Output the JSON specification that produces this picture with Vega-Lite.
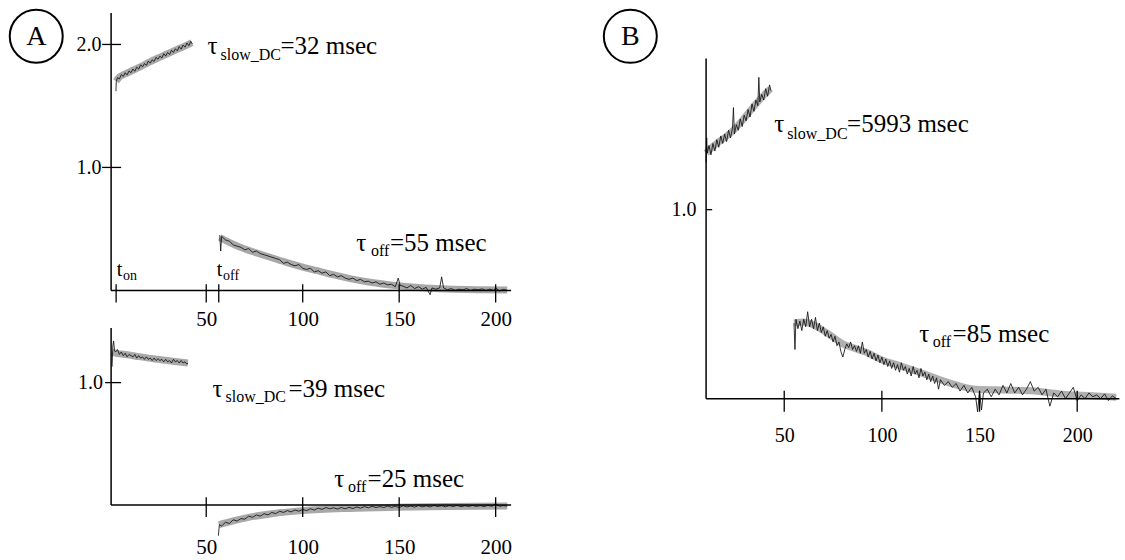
{
"$schema": "https://vega.github.io/schema/vega-lite/v6.json",
"autosize": {"type": "pad"},
"padding": {"left": 5.1, "top": 5.1, "right": 0, "bottom": 6},
"background": "white",
"bounds": "flush",
"columns": 2,
"spacing": {"row": 0, "column": 195},
"config": {
  "view": {"stroke": null},
  "axis": {"labelFont": "Liberation Serif", "labelColor": "black", "domain": false, "ticks": false, "tickSize": 0, "grid": false, "labelFlush": false, "labelOverlap": false, "labelBound": false},
  "text": {"font": "Liberation Serif", "color": "black", "align": "left", "baseline": "alphabetic"}
},
"datasets": {
  "aTopFit": [
    {"seg":"on","x":3.3,"y":1.70},{"seg":"on","x":5,"y":1.735},{"seg":"on","x":8,"y":1.76},{"seg":"on","x":12,"y":1.79},{"seg":"on","x":16,"y":1.82},{"seg":"on","x":20,"y":1.852},{"seg":"on","x":25,"y":1.89},{"seg":"on","x":30,"y":1.925},{"seg":"on","x":35,"y":1.96},{"seg":"on","x":40,"y":1.995},{"seg":"on","x":42.6,"y":2.015},
    {"seg":"off","x":57,"y":0.43},{"seg":"off","x":62,"y":0.39},{"seg":"off","x":67,"y":0.355},{"seg":"off","x":75,"y":0.31},{"seg":"off","x":81,"y":0.28},{"seg":"off","x":91,"y":0.23},{"seg":"off","x":100,"y":0.19},{"seg":"off","x":107,"y":0.162},{"seg":"off","x":115,"y":0.13},{"seg":"off","x":124,"y":0.098},{"seg":"off","x":135,"y":0.066},{"seg":"off","x":148,"y":0.04},{"seg":"off","x":160,"y":0.024},{"seg":"off","x":175,"y":0.012},{"seg":"off","x":190,"y":0.006},{"seg":"off","x":206,"y":0.003}
  ],
  "aTopNoise": [
    {"seg":"on","x":3.2,"y":1.62},{"seg":"on","x":3.4,"y":1.70},{"seg":"on","x":4,"y":1.73},{"seg":"on","x":5,"y":1.72},{"seg":"on","x":6,"y":1.755},{"seg":"on","x":7,"y":1.74},{"seg":"on","x":8,"y":1.77},{"seg":"on","x":9,"y":1.752},{"seg":"on","x":10,"y":1.785},{"seg":"on","x":11,"y":1.77},{"seg":"on","x":12,"y":1.80},{"seg":"on","x":13,"y":1.782},{"seg":"on","x":14,"y":1.815},{"seg":"on","x":15,"y":1.80},{"seg":"on","x":16,"y":1.835},{"seg":"on","x":17,"y":1.818},{"seg":"on","x":18,"y":1.845},{"seg":"on","x":19,"y":1.83},{"seg":"on","x":20,"y":1.865},{"seg":"on","x":21,"y":1.848},{"seg":"on","x":22,"y":1.875},{"seg":"on","x":23,"y":1.862},{"seg":"on","x":24,"y":1.895},{"seg":"on","x":25,"y":1.88},{"seg":"on","x":26,"y":1.905},{"seg":"on","x":27,"y":1.89},{"seg":"on","x":28,"y":1.925},{"seg":"on","x":29,"y":1.905},{"seg":"on","x":30,"y":1.935},{"seg":"on","x":31,"y":1.918},{"seg":"on","x":32,"y":1.952},{"seg":"on","x":33,"y":1.935},{"seg":"on","x":34,"y":1.965},{"seg":"on","x":35,"y":1.948},{"seg":"on","x":36,"y":1.982},{"seg":"on","x":37,"y":1.962},{"seg":"on","x":38,"y":1.995},{"seg":"on","x":39,"y":1.978},{"seg":"on","x":40,"y":2.012},{"seg":"on","x":41,"y":1.99},{"seg":"on","x":42,"y":2.025},{"seg":"on","x":42.8,"y":2.005},
    {"seg":"off","x":57,"y":0.45},{"seg":"off","x":57.5,"y":0.32},{"seg":"off","x":58,"y":0.44},{"seg":"off","x":60,"y":0.41},{"seg":"off","x":62,"y":0.40},{"seg":"off","x":64,"y":0.37},{"seg":"off","x":66,"y":0.36},{"seg":"off","x":68,"y":0.35},{"seg":"off","x":70,"y":0.33},{"seg":"off","x":72,"y":0.34},{"seg":"off","x":74,"y":0.31},{"seg":"off","x":76,"y":0.32},{"seg":"off","x":78,"y":0.30},{"seg":"off","x":80,"y":0.29},{"seg":"off","x":82,"y":0.28},{"seg":"off","x":84,"y":0.27},{"seg":"off","x":86,"y":0.26},{"seg":"off","x":88,"y":0.25},{"seg":"off","x":90,"y":0.22},{"seg":"off","x":92,"y":0.23},{"seg":"off","x":94,"y":0.21},{"seg":"off","x":96,"y":0.20},{"seg":"off","x":98,"y":0.21},{"seg":"off","x":100,"y":0.18},{"seg":"off","x":102,"y":0.17},{"seg":"off","x":104,"y":0.18},{"seg":"off","x":106,"y":0.15},{"seg":"off","x":108,"y":0.16},{"seg":"off","x":110,"y":0.14},{"seg":"off","x":112,"y":0.15},{"seg":"off","x":114,"y":0.12},{"seg":"off","x":116,"y":0.13},{"seg":"off","x":118,"y":0.11},{"seg":"off","x":120,"y":0.12},{"seg":"off","x":122,"y":0.10},{"seg":"off","x":124,"y":0.09},{"seg":"off","x":126,"y":0.10},{"seg":"off","x":128,"y":0.08},{"seg":"off","x":130,"y":0.09},{"seg":"off","x":132,"y":0.07},{"seg":"off","x":134,"y":0.075},{"seg":"off","x":136,"y":0.06},{"seg":"off","x":138,"y":0.07},{"seg":"off","x":140,"y":0.05},{"seg":"off","x":142,"y":0.06},{"seg":"off","x":144,"y":0.045},{"seg":"off","x":146,"y":0.05},{"seg":"off","x":148,"y":0.03},{"seg":"off","x":149.5,"y":0.10},{"seg":"off","x":150.5,"y":0.04},{"seg":"off","x":152,"y":0.035},{"seg":"off","x":154,"y":0.02},{"seg":"off","x":156,"y":0.04},{"seg":"off","x":158,"y":0.015},{"seg":"off","x":160,"y":0.03},{"seg":"off","x":162,"y":0.01},{"seg":"off","x":164,"y":0.025},{"seg":"off","x":166,"y":-0.035},{"seg":"off","x":167,"y":0.02},{"seg":"off","x":169,"y":0.01},{"seg":"off","x":171,"y":0.02},{"seg":"off","x":172,"y":0.11},{"seg":"off","x":173,"y":0.02},{"seg":"off","x":175,"y":0.005},{"seg":"off","x":177,"y":0.015},{"seg":"off","x":179,"y":0.0},{"seg":"off","x":181,"y":0.01},{"seg":"off","x":183,"y":0.005},{"seg":"off","x":185,"y":0.015},{"seg":"off","x":187,"y":0.0},{"seg":"off","x":189,"y":0.01},{"seg":"off","x":191,"y":0.005},{"seg":"off","x":193,"y":0.012},{"seg":"off","x":195,"y":0.0},{"seg":"off","x":197,"y":0.01},{"seg":"off","x":199,"y":0.0},{"seg":"off","x":200,"y":0.02},{"seg":"off","x":202,"y":-0.005},{"seg":"off","x":204,"y":0.008},{"seg":"off","x":206,"y":0.0}
  ],
  "aBotFit": [
    {"seg":"on","x":1.2,"y":1.25},{"seg":"on","x":3,"y":1.24},{"seg":"on","x":6,"y":1.233},{"seg":"on","x":10,"y":1.225},{"seg":"on","x":15,"y":1.212},{"seg":"on","x":20,"y":1.2},{"seg":"on","x":25,"y":1.19},{"seg":"on","x":30,"y":1.18},{"seg":"on","x":35,"y":1.17},{"seg":"on","x":40.5,"y":1.16},
    {"seg":"off","x":56.6,"y":-0.16},{"seg":"off","x":60,"y":-0.145},{"seg":"off","x":64,"y":-0.128},{"seg":"off","x":72,"y":-0.1},{"seg":"off","x":84,"y":-0.07},{"seg":"off","x":100,"y":-0.045},{"seg":"off","x":124,"y":-0.027},{"seg":"off","x":148,"y":-0.018},{"seg":"off","x":175,"y":-0.012},{"seg":"off","x":206,"y":-0.008}
  ],
  "aBotNoise": [
    {"seg":"on","x":1.2,"y":1.13},{"seg":"on","x":1.6,"y":1.30},{"seg":"on","x":2,"y":1.34},{"seg":"on","x":2.5,"y":1.26},{"seg":"on","x":3,"y":1.25},{"seg":"on","x":4,"y":1.27},{"seg":"on","x":5,"y":1.23},{"seg":"on","x":6,"y":1.25},{"seg":"on","x":7,"y":1.22},{"seg":"on","x":8,"y":1.24},{"seg":"on","x":9,"y":1.21},{"seg":"on","x":10,"y":1.23},{"seg":"on","x":11,"y":1.22},{"seg":"on","x":12,"y":1.21},{"seg":"on","x":13,"y":1.23},{"seg":"on","x":14,"y":1.20},{"seg":"on","x":15,"y":1.22},{"seg":"on","x":16,"y":1.20},{"seg":"on","x":17,"y":1.21},{"seg":"on","x":18,"y":1.19},{"seg":"on","x":19,"y":1.21},{"seg":"on","x":20,"y":1.19},{"seg":"on","x":21,"y":1.20},{"seg":"on","x":22,"y":1.18},{"seg":"on","x":23,"y":1.20},{"seg":"on","x":24,"y":1.18},{"seg":"on","x":25,"y":1.195},{"seg":"on","x":26,"y":1.18},{"seg":"on","x":27,"y":1.19},{"seg":"on","x":28,"y":1.17},{"seg":"on","x":29,"y":1.19},{"seg":"on","x":30,"y":1.17},{"seg":"on","x":31,"y":1.18},{"seg":"on","x":32,"y":1.16},{"seg":"on","x":33,"y":1.19},{"seg":"on","x":34,"y":1.17},{"seg":"on","x":35,"y":1.18},{"seg":"on","x":36,"y":1.16},{"seg":"on","x":37,"y":1.18},{"seg":"on","x":38,"y":1.16},{"seg":"on","x":39,"y":1.17},{"seg":"on","x":40,"y":1.15},{"seg":"on","x":40.5,"y":1.16},
    {"seg":"off","x":56.3,"y":-0.25},{"seg":"off","x":56.8,"y":-0.16},{"seg":"off","x":58,"y":-0.17},{"seg":"off","x":60,"y":-0.14},{"seg":"off","x":62,"y":-0.15},{"seg":"off","x":64,"y":-0.12},{"seg":"off","x":66,"y":-0.13},{"seg":"off","x":68,"y":-0.11},{"seg":"off","x":70,"y":-0.115},{"seg":"off","x":72,"y":-0.09},{"seg":"off","x":74,"y":-0.10},{"seg":"off","x":76,"y":-0.08},{"seg":"off","x":78,"y":-0.09},{"seg":"off","x":80,"y":-0.07},{"seg":"off","x":82,"y":-0.08},{"seg":"off","x":84,"y":-0.06},{"seg":"off","x":86,"y":-0.07},{"seg":"off","x":88,"y":-0.05},{"seg":"off","x":90,"y":-0.06},{"seg":"off","x":92,"y":-0.045},{"seg":"off","x":94,"y":-0.055},{"seg":"off","x":96,"y":-0.04},{"seg":"off","x":98,"y":-0.05},{"seg":"off","x":100,"y":-0.035},{"seg":"off","x":102,"y":-0.045},{"seg":"off","x":104,"y":-0.03},{"seg":"off","x":106,"y":-0.04},{"seg":"off","x":108,"y":-0.025},{"seg":"off","x":110,"y":-0.035},{"seg":"off","x":112,"y":-0.02},{"seg":"off","x":114,"y":-0.03},{"seg":"off","x":116,"y":-0.022},{"seg":"off","x":118,"y":-0.032},{"seg":"off","x":120,"y":-0.02},{"seg":"off","x":122,"y":-0.03},{"seg":"off","x":124,"y":-0.018},{"seg":"off","x":126,"y":-0.028},{"seg":"off","x":128,"y":-0.015},{"seg":"off","x":130,"y":-0.025},{"seg":"off","x":132,"y":-0.012},{"seg":"off","x":134,"y":-0.022},{"seg":"off","x":136,"y":-0.01},{"seg":"off","x":138,"y":-0.02},{"seg":"off","x":140,"y":-0.012},{"seg":"off","x":142,"y":-0.02},{"seg":"off","x":144,"y":-0.008},{"seg":"off","x":146,"y":-0.018},{"seg":"off","x":148,"y":-0.01},{"seg":"off","x":150,"y":-0.02},{"seg":"off","x":152,"y":-0.005},{"seg":"off","x":154,"y":-0.015},{"seg":"off","x":156,"y":-0.008},{"seg":"off","x":158,"y":-0.016},{"seg":"off","x":160,"y":-0.004},{"seg":"off","x":162,"y":-0.014},{"seg":"off","x":164,"y":-0.006},{"seg":"off","x":166,"y":-0.015},{"seg":"off","x":168,"y":-0.003},{"seg":"off","x":170,"y":-0.012},{"seg":"off","x":172,"y":-0.005},{"seg":"off","x":174,"y":-0.014},{"seg":"off","x":176,"y":-0.004},{"seg":"off","x":178,"y":-0.012},{"seg":"off","x":180,"y":-0.002},{"seg":"off","x":182,"y":-0.013},{"seg":"off","x":184,"y":-0.005},{"seg":"off","x":186,"y":-0.012},{"seg":"off","x":188,"y":-0.003},{"seg":"off","x":190,"y":-0.011},{"seg":"off","x":192,"y":-0.004},{"seg":"off","x":194,"y":-0.012},{"seg":"off","x":196,"y":-0.002},{"seg":"off","x":198,"y":-0.01},{"seg":"off","x":200,"y":0.01},{"seg":"off","x":202,"y":-0.01},{"seg":"off","x":204,"y":-0.004},{"seg":"off","x":206,"y":-0.008}
  ],
  "bFit": [
    {"seg":"on","x":10,"y":1.30},{"seg":"on","x":13,"y":1.33},{"seg":"on","x":16,"y":1.355},{"seg":"on","x":20,"y":1.385},{"seg":"on","x":24,"y":1.42},{"seg":"on","x":28,"y":1.465},{"seg":"on","x":32,"y":1.515},{"seg":"on","x":36,"y":1.565},{"seg":"on","x":40,"y":1.61},{"seg":"on","x":43,"y":1.64},
    {"seg":"off","x":55,"y":0.40},{"seg":"off","x":60,"y":0.405},{"seg":"off","x":65,"y":0.39},{"seg":"off","x":70,"y":0.36},{"seg":"off","x":75,"y":0.325},{"seg":"off","x":80,"y":0.29},{"seg":"off","x":85,"y":0.27},{"seg":"off","x":92,"y":0.245},{"seg":"off","x":100,"y":0.205},{"seg":"off","x":109,"y":0.175},{"seg":"off","x":122,"y":0.13},{"seg":"off","x":134,"y":0.085},{"seg":"off","x":148,"y":0.05},{"seg":"off","x":165,"y":0.045},{"seg":"off","x":178,"y":0.04},{"seg":"off","x":191,"y":0.025},{"seg":"off","x":208,"y":0.015},{"seg":"off","x":220,"y":0.008}
  ],
  "bNoise": [
    {"seg":"on","x":10,"y":1.25},{"seg":"on","x":10.3,"y":1.38},{"seg":"on","x":10.6,"y":1.30},{"seg":"on","x":11.5,"y":1.34},{"seg":"on","x":12.5,"y":1.29},{"seg":"on","x":13.5,"y":1.35},{"seg":"on","x":14.5,"y":1.31},{"seg":"on","x":15.5,"y":1.37},{"seg":"on","x":16.5,"y":1.33},{"seg":"on","x":17.5,"y":1.39},{"seg":"on","x":18.5,"y":1.35},{"seg":"on","x":19.5,"y":1.40},{"seg":"on","x":20.5,"y":1.36},{"seg":"on","x":21.5,"y":1.42},{"seg":"on","x":22.5,"y":1.38},{"seg":"on","x":23.5,"y":1.43},{"seg":"on","x":24,"y":1.54},{"seg":"on","x":24.5,"y":1.40},{"seg":"on","x":25.5,"y":1.45},{"seg":"on","x":26.5,"y":1.42},{"seg":"on","x":27.5,"y":1.48},{"seg":"on","x":28.5,"y":1.44},{"seg":"on","x":29.5,"y":1.50},{"seg":"on","x":30.5,"y":1.47},{"seg":"on","x":31.5,"y":1.53},{"seg":"on","x":32.5,"y":1.49},{"seg":"on","x":33.5,"y":1.56},{"seg":"on","x":34.5,"y":1.52},{"seg":"on","x":35.5,"y":1.58},{"seg":"on","x":36.5,"y":1.55},{"seg":"on","x":37,"y":1.70},{"seg":"on","x":37.5,"y":1.57},{"seg":"on","x":38.5,"y":1.61},{"seg":"on","x":39.5,"y":1.58},{"seg":"on","x":40.5,"y":1.64},{"seg":"on","x":41.5,"y":1.60},{"seg":"on","x":42.5,"y":1.66},{"seg":"on","x":43.2,"y":1.63},
    {"seg":"off","x":55,"y":0.40},{"seg":"off","x":55.5,"y":0.26},{"seg":"off","x":56,"y":0.42},{"seg":"off","x":57,"y":0.37},{"seg":"off","x":58,"y":0.41},{"seg":"off","x":59,"y":0.36},{"seg":"off","x":60,"y":0.42},{"seg":"off","x":61,"y":0.38},{"seg":"off","x":62,"y":0.46},{"seg":"off","x":63,"y":0.38},{"seg":"off","x":64,"y":0.42},{"seg":"off","x":65,"y":0.37},{"seg":"off","x":66,"y":0.43},{"seg":"off","x":67,"y":0.36},{"seg":"off","x":68,"y":0.40},{"seg":"off","x":69,"y":0.35},{"seg":"off","x":70,"y":0.38},{"seg":"off","x":71,"y":0.33},{"seg":"off","x":72,"y":0.36},{"seg":"off","x":73,"y":0.32},{"seg":"off","x":74,"y":0.34},{"seg":"off","x":75,"y":0.30},{"seg":"off","x":76,"y":0.33},{"seg":"off","x":77,"y":0.28},{"seg":"off","x":78,"y":0.30},{"seg":"off","x":79,"y":0.25},{"seg":"off","x":80,"y":0.22},{"seg":"off","x":81,"y":0.26},{"seg":"off","x":82,"y":0.29},{"seg":"off","x":83,"y":0.27},{"seg":"off","x":84,"y":0.30},{"seg":"off","x":85,"y":0.26},{"seg":"off","x":86,"y":0.28},{"seg":"off","x":87,"y":0.25},{"seg":"off","x":88,"y":0.28},{"seg":"off","x":89,"y":0.24},{"seg":"off","x":90,"y":0.30},{"seg":"off","x":91,"y":0.24},{"seg":"off","x":92,"y":0.26},{"seg":"off","x":93,"y":0.22},{"seg":"off","x":94,"y":0.25},{"seg":"off","x":95,"y":0.21},{"seg":"off","x":96,"y":0.24},{"seg":"off","x":97,"y":0.20},{"seg":"off","x":98,"y":0.23},{"seg":"off","x":99,"y":0.19},{"seg":"off","x":100,"y":0.22},{"seg":"off","x":101,"y":0.18},{"seg":"off","x":102,"y":0.21},{"seg":"off","x":103,"y":0.17},{"seg":"off","x":104,"y":0.20},{"seg":"off","x":105,"y":0.16},{"seg":"off","x":106,"y":0.19},{"seg":"off","x":107,"y":0.15},{"seg":"off","x":108,"y":0.18},{"seg":"off","x":109,"y":0.14},{"seg":"off","x":110,"y":0.19},{"seg":"off","x":111,"y":0.15},{"seg":"off","x":112,"y":0.17},{"seg":"off","x":113,"y":0.13},{"seg":"off","x":114,"y":0.16},{"seg":"off","x":115,"y":0.12},{"seg":"off","x":116,"y":0.17},{"seg":"off","x":117,"y":0.13},{"seg":"off","x":118,"y":0.15},{"seg":"off","x":119,"y":0.11},{"seg":"off","x":120,"y":0.16},{"seg":"off","x":121,"y":0.12},{"seg":"off","x":122,"y":0.14},{"seg":"off","x":123,"y":0.10},{"seg":"off","x":124,"y":0.13},{"seg":"off","x":125,"y":0.09},{"seg":"off","x":126,"y":0.12},{"seg":"off","x":127,"y":0.08},{"seg":"off","x":128,"y":0.11},{"seg":"off","x":129,"y":0.05},{"seg":"off","x":130,"y":0.10},{"seg":"off","x":132,"y":0.07},{"seg":"off","x":134,"y":0.09},{"seg":"off","x":136,"y":0.06},{"seg":"off","x":138,"y":0.08},{"seg":"off","x":140,"y":0.04},{"seg":"off","x":142,"y":0.07},{"seg":"off","x":144,"y":0.03},{"seg":"off","x":146,"y":0.06},{"seg":"off","x":148,"y":0.01},{"seg":"off","x":149,"y":-0.07},{"seg":"off","x":150,"y":0.04},{"seg":"off","x":151,"y":-0.06},{"seg":"off","x":152,"y":0.03},{"seg":"off","x":154,"y":0.05},{"seg":"off","x":156,"y":0.01},{"seg":"off","x":158,"y":0.05},{"seg":"off","x":160,"y":0.02},{"seg":"off","x":162,"y":0.07},{"seg":"off","x":164,"y":0.03},{"seg":"off","x":166,"y":0.08},{"seg":"off","x":168,"y":0.03},{"seg":"off","x":170,"y":0.06},{"seg":"off","x":172,"y":0.02},{"seg":"off","x":174,"y":0.05},{"seg":"off","x":176,"y":0.09},{"seg":"off","x":178,"y":0.04},{"seg":"off","x":180,"y":0.06},{"seg":"off","x":182,"y":0.02},{"seg":"off","x":184,"y":0.05},{"seg":"off","x":186,"y":-0.04},{"seg":"off","x":188,"y":0.03},{"seg":"off","x":190,"y":0.01},{"seg":"off","x":192,"y":0.04},{"seg":"off","x":194,"y":0.0},{"seg":"off","x":196,"y":0.03},{"seg":"off","x":198,"y":0.06},{"seg":"off","x":200,"y":-0.01},{"seg":"off","x":202,"y":0.02},{"seg":"off","x":204,"y":0.0},{"seg":"off","x":206,"y":0.03},{"seg":"off","x":208,"y":0.01},{"seg":"off","x":210,"y":0.02},{"seg":"off","x":212,"y":0.0},{"seg":"off","x":214,"y":0.025},{"seg":"off","x":216,"y":-0.01},{"seg":"off","x":218,"y":0.015},{"seg":"off","x":220,"y":0.0}
  ],
  "aTopText": [
    {"x":50.6,"y":1.919,"text":"τ","part":"main"},
    {"x":57.4,"y":1.870,"text":"slow_DC","part":"sub"},
    {"x":88.5,"y":1.919,"text":"=32 msec","part":"main"},
    {"x":127.8,"y":0.320,"text":"τ","part":"main"},
    {"x":135.4,"y":0.280,"text":"off","part":"sub"},
    {"x":145.2,"y":0.320,"text":"=55 msec","part":"main"},
    {"x":3.6,"y":0.114,"text":"t","part":"small"},
    {"x":6.9,"y":0.081,"text":"on","part":"smallsub"},
    {"x":55.4,"y":0.114,"text":"t","part":"small"},
    {"x":58.7,"y":0.081,"text":"off","part":"smallsub"}
  ],
  "aBotText": [
    {"x":53.2,"y":0.884,"text":"τ","part":"main"},
    {"x":60.0,"y":0.843,"text":"slow_DC","part":"sub"},
    {"x":92.6,"y":0.884,"text":"=39 msec","part":"main"},
    {"x":116.4,"y":0.149,"text":"τ","part":"main"},
    {"x":123.5,"y":0.109,"text":"off","part":"sub"},
    {"x":133.6,"y":0.149,"text":"=25 msec","part":"main"}
  ],
  "bText": [
    {"x":44.9,"y":1.411,"text":"τ","part":"main"},
    {"x":51.5,"y":1.376,"text":"slow_DC","part":"sub"},
    {"x":82.2,"y":1.411,"text":"=5993 msec","part":"main"},
    {"x":119.1,"y":0.299,"text":"τ","part":"main"},
    {"x":126.0,"y":0.273,"text":"off","part":"sub"},
    {"x":136.2,"y":0.299,"text":"=85 msec","part":"main"}
  ]
},
"concat": [
  {
    "width": 400, "height": 277.3,
    "layer": [
      {"data": {"name": "aTopFit"}, "mark": {"type": "line", "strokeWidth": 7, "color": "#a8a8a8", "interpolate": "monotone"},
       "encoding": {
         "x": {"field": "x", "type": "quantitative", "scale": {"domain": [0.7, 208], "nice": false, "zero": false}, "axis": {"title": null, "values": [50, 100, 150, 200], "labelPadding": 18.5, "labelFontSize": 21}},
         "y": {"field": "y", "type": "quantitative", "scale": {"domain": [0, 2.255], "nice": false, "zero": false}, "axis": {"title": null, "values": [1, 2], "format": ".1f", "labelPadding": 10, "labelFontSize": 20}},
         "detail": {"field": "seg"}}},
      {"data": {"name": "aTopNoise"}, "mark": {"type": "line", "strokeWidth": 1, "color": "#111111", "opacity": 0.85},
       "encoding": {
         "x": {"field": "x", "type": "quantitative", "scale": {"domain": [0.7, 208], "nice": false, "zero": false}},
         "y": {"field": "y", "type": "quantitative", "scale": {"domain": [0, 2.255], "nice": false, "zero": false}},
         "detail": {"field": "seg"}}},
      {"data": {"values": [{}]}, "mark": {"type": "rule", "strokeWidth": 1.5, "color": "black"},
       "encoding": {"x": {"datum": 0.7, "type": "quantitative", "scale": {"domain": [0.7, 208], "nice": false, "zero": false}}, "x2": {"datum": 208}, "y": {"datum": 0, "type": "quantitative", "scale": {"domain": [0, 2.255], "nice": false, "zero": false}}}},
      {"data": {"values": [{}]}, "mark": {"type": "rule", "strokeWidth": 1.5, "color": "black"},
       "encoding": {"x": {"datum": 0.7, "type": "quantitative", "scale": {"domain": [0.7, 208], "nice": false, "zero": false}}, "y": {"datum": 0, "type": "quantitative", "scale": {"domain": [0, 2.255], "nice": false, "zero": false}}, "y2": {"datum": 2.255}}},
      {"data": {"values": [{"x": 3.3}, {"x": 50}, {"x": 56.5}, {"x": 100}, {"x": 150}, {"x": 200}]}, "mark": {"type": "rule", "strokeWidth": 1.3, "color": "black"},
       "encoding": {"x": {"field": "x", "type": "quantitative", "scale": {"domain": [0.7, 208], "nice": false, "zero": false}}, "y": {"datum": -0.098, "type": "quantitative", "scale": {"domain": [0, 2.255], "nice": false, "zero": false}}, "y2": {"datum": 0.05}}},
      {"data": {"values": [{"y": 1}, {"y": 2}]}, "mark": {"type": "rule", "strokeWidth": 1.3, "color": "black"},
       "encoding": {"y": {"field": "y", "type": "quantitative", "scale": {"domain": [0, 2.255], "nice": false, "zero": false}}, "x": {"datum": -3.96, "type": "quantitative", "scale": {"domain": [0.7, 208], "nice": false, "zero": false}}, "x2": {"datum": 5.88}}},
      {"data": {"name": "aTopText"}, "transform": [{"filter": "datum.part === 'main'"}], "mark": {"type": "text", "fontSize": 25},
       "encoding": {"x": {"field": "x", "type": "quantitative", "scale": {"domain": [0.7, 208], "nice": false, "zero": false}}, "y": {"field": "y", "type": "quantitative", "scale": {"domain": [0, 2.255], "nice": false, "zero": false}}, "text": {"field": "text"}}},
      {"data": {"name": "aTopText"}, "transform": [{"filter": "datum.part === 'sub'"}], "mark": {"type": "text", "fontSize": 16},
       "encoding": {"x": {"field": "x", "type": "quantitative", "scale": {"domain": [0.7, 208], "nice": false, "zero": false}}, "y": {"field": "y", "type": "quantitative", "scale": {"domain": [0, 2.255], "nice": false, "zero": false}}, "text": {"field": "text"}}},
      {"data": {"name": "aTopText"}, "transform": [{"filter": "datum.part === 'small'"}], "mark": {"type": "text", "fontSize": 20},
       "encoding": {"x": {"field": "x", "type": "quantitative", "scale": {"domain": [0.7, 208], "nice": false, "zero": false}}, "y": {"field": "y", "type": "quantitative", "scale": {"domain": [0, 2.255], "nice": false, "zero": false}}, "text": {"field": "text"}}},
      {"data": {"name": "aTopText"}, "transform": [{"filter": "datum.part === 'smallsub'"}], "mark": {"type": "text", "fontSize": 14},
       "encoding": {"x": {"field": "x", "type": "quantitative", "scale": {"domain": [0.7, 208], "nice": false, "zero": false}}, "y": {"field": "y", "type": "quantitative", "scale": {"domain": [0, 2.255], "nice": false, "zero": false}}, "text": {"field": "text"}}},
      {"data": {"values": [{"x": -38.1, "y": 2.067}]}, "mark": {"type": "point", "shape": "circle", "filled": false, "size": 2809, "strokeWidth": 2, "color": "black", "opacity": 1},
       "encoding": {"x": {"field": "x", "type": "quantitative", "scale": {"domain": [0.7, 208], "nice": false, "zero": false}}, "y": {"field": "y", "type": "quantitative", "scale": {"domain": [0, 2.255], "nice": false, "zero": false}}}},
      {"data": {"values": [{"x": -38.1, "y": 2.067, "text": "A"}]}, "mark": {"type": "text", "fontSize": 28, "align": "center", "baseline": "middle", "dy": 1},
       "encoding": {"x": {"field": "x", "type": "quantitative", "scale": {"domain": [0.7, 208], "nice": false, "zero": false}}, "y": {"field": "y", "type": "quantitative", "scale": {"domain": [0, 2.255], "nice": false, "zero": false}}, "text": {"field": "text"}}}
    ]
  },
  {
    "width": 413.3, "height": 315,
    "layer": [
      {"data": {"name": "bFit"}, "mark": {"type": "line", "strokeWidth": 7, "color": "#b0b0b0", "interpolate": "monotone"},
       "encoding": {
         "x": {"field": "x", "type": "quantitative", "scale": {"domain": [10, 221.6], "nice": false, "zero": false}, "axis": {"title": null, "values": [50, 100, 150, 200], "labelPadding": 97.5, "labelFontSize": 20}},
         "y": {"field": "y", "type": "quantitative", "scale": {"domain": [0.3733, 2.04], "nice": false, "zero": false}, "axis": {"title": null, "values": [1], "format": ".1f", "labelPadding": 10, "labelFontSize": 20}},
         "detail": {"field": "seg"}}},
      {"data": {"name": "bNoise"}, "mark": {"type": "line", "strokeWidth": 1, "color": "#111111", "opacity": 0.85},
       "encoding": {
         "x": {"field": "x", "type": "quantitative", "scale": {"domain": [10, 221.6], "nice": false, "zero": false}},
         "y": {"field": "y", "type": "quantitative", "scale": {"domain": [0.3733, 2.04], "nice": false, "zero": false}},
         "detail": {"field": "seg"}}},
      {"data": {"values": [{}]}, "mark": {"type": "rule", "strokeWidth": 1.5, "color": "black"},
       "encoding": {"x": {"datum": 10, "type": "quantitative", "scale": {"domain": [10, 221.6], "nice": false, "zero": false}}, "x2": {"datum": 221.6}, "y": {"datum": 0, "type": "quantitative", "scale": {"domain": [0.3733, 2.04], "nice": false, "zero": false}}}},
      {"data": {"values": [{}]}, "mark": {"type": "rule", "strokeWidth": 1.5, "color": "black"},
       "encoding": {"x": {"datum": 10, "type": "quantitative", "scale": {"domain": [10, 221.6], "nice": false, "zero": false}}, "y": {"datum": 0, "type": "quantitative", "scale": {"domain": [0.3733, 2.04], "nice": false, "zero": false}}, "y2": {"datum": 1.8}}},
      {"data": {"values": [{"x": 50}, {"x": 100}, {"x": 150}, {"x": 200}]}, "mark": {"type": "rule", "strokeWidth": 1.3, "color": "black"},
       "encoding": {"x": {"field": "x", "type": "quantitative", "scale": {"domain": [10, 221.6], "nice": false, "zero": false}}, "y": {"datum": -0.069, "type": "quantitative", "scale": {"domain": [0.3733, 2.04], "nice": false, "zero": false}}, "y2": {"datum": 0.042}}},
      {"data": {"values": [{"y": 1}]}, "mark": {"type": "rule", "strokeWidth": 1.3, "color": "black"},
       "encoding": {"y": {"field": "y", "type": "quantitative", "scale": {"domain": [0.3733, 2.04], "nice": false, "zero": false}}, "x": {"datum": 10, "type": "quantitative", "scale": {"domain": [10, 221.6], "nice": false, "zero": false}}, "x2": {"datum": 13.1}}},
      {"data": {"name": "bText"}, "transform": [{"filter": "datum.part === 'main'"}], "mark": {"type": "text", "fontSize": 25},
       "encoding": {"x": {"field": "x", "type": "quantitative", "scale": {"domain": [10, 221.6], "nice": false, "zero": false}}, "y": {"field": "y", "type": "quantitative", "scale": {"domain": [0.3733, 2.04], "nice": false, "zero": false}}, "text": {"field": "text"}}},
      {"data": {"name": "bText"}, "transform": [{"filter": "datum.part === 'sub'"}], "mark": {"type": "text", "fontSize": 16},
       "encoding": {"x": {"field": "x", "type": "quantitative", "scale": {"domain": [10, 221.6], "nice": false, "zero": false}}, "y": {"field": "y", "type": "quantitative", "scale": {"domain": [0.3733, 2.04], "nice": false, "zero": false}}, "text": {"field": "text"}}},
      {"data": {"values": [{"x": -28.8, "y": 1.917}]}, "mark": {"type": "point", "shape": "circle", "filled": false, "size": 2809, "strokeWidth": 2, "color": "black", "opacity": 1},
       "encoding": {"x": {"field": "x", "type": "quantitative", "scale": {"domain": [10, 221.6], "nice": false, "zero": false}}, "y": {"field": "y", "type": "quantitative", "scale": {"domain": [0.3733, 2.04], "nice": false, "zero": false}}}},
      {"data": {"values": [{"x": -28.8, "y": 1.917, "text": "B"}]}, "mark": {"type": "text", "fontSize": 28, "align": "center", "baseline": "middle", "dy": 1},
       "encoding": {"x": {"field": "x", "type": "quantitative", "scale": {"domain": [10, 221.6], "nice": false, "zero": false}}, "y": {"field": "y", "type": "quantitative", "scale": {"domain": [0.3733, 2.04], "nice": false, "zero": false}}, "text": {"field": "text"}}}
    ]
  },
  {
    "width": 400, "height": 208,
    "layer": [
      {"data": {"name": "aBotFit"}, "mark": {"type": "line", "strokeWidth": 7, "color": "#a8a8a8", "interpolate": "monotone"},
       "encoding": {
         "x": {"field": "x", "type": "quantitative", "scale": {"domain": [0.7, 208], "nice": false, "zero": false}, "axis": {"title": null, "values": [50, 100, 150, 200], "labelPadding": 0, "labelFontSize": 21}},
         "y": {"field": "y", "type": "quantitative", "scale": {"domain": [-0.253, 1.445], "nice": false, "zero": false}, "axis": {"title": null, "values": [1], "format": ".1f", "labelPadding": 8.5, "labelFontSize": 20}},
         "detail": {"field": "seg"}}},
      {"data": {"name": "aBotNoise"}, "mark": {"type": "line", "strokeWidth": 1, "color": "#111111", "opacity": 0.85},
       "encoding": {
         "x": {"field": "x", "type": "quantitative", "scale": {"domain": [0.7, 208], "nice": false, "zero": false}},
         "y": {"field": "y", "type": "quantitative", "scale": {"domain": [-0.253, 1.445], "nice": false, "zero": false}},
         "detail": {"field": "seg"}}},
      {"data": {"values": [{}]}, "mark": {"type": "rule", "strokeWidth": 1.5, "color": "black"},
       "encoding": {"x": {"datum": 0.7, "type": "quantitative", "scale": {"domain": [0.7, 208], "nice": false, "zero": false}}, "x2": {"datum": 208}, "y": {"datum": 0, "type": "quantitative", "scale": {"domain": [-0.253, 1.445], "nice": false, "zero": false}}}},
      {"data": {"values": [{}]}, "mark": {"type": "rule", "strokeWidth": 1.5, "color": "black"},
       "encoding": {"x": {"datum": 0.7, "type": "quantitative", "scale": {"domain": [0.7, 208], "nice": false, "zero": false}}, "y": {"datum": 0, "type": "quantitative", "scale": {"domain": [-0.253, 1.445], "nice": false, "zero": false}}, "y2": {"datum": 1.445}}},
      {"data": {"values": [{"x": 50}, {"x": 100}, {"x": 150}, {"x": 200}]}, "mark": {"type": "rule", "strokeWidth": 1.3, "color": "black"},
       "encoding": {"x": {"field": "x", "type": "quantitative", "scale": {"domain": [0.7, 208], "nice": false, "zero": false}}, "y": {"datum": -0.098, "type": "quantitative", "scale": {"domain": [-0.253, 1.445], "nice": false, "zero": false}}, "y2": {"datum": 0.065}}},
      {"data": {"values": [{"y": 1}]}, "mark": {"type": "rule", "strokeWidth": 1.3, "color": "black"},
       "encoding": {"y": {"field": "y", "type": "quantitative", "scale": {"domain": [-0.253, 1.445], "nice": false, "zero": false}}, "x": {"datum": -2.4, "type": "quantitative", "scale": {"domain": [0.7, 208], "nice": false, "zero": false}}, "x2": {"datum": 5.88}}},
      {"data": {"name": "aBotText"}, "transform": [{"filter": "datum.part === 'main'"}], "mark": {"type": "text", "fontSize": 25},
       "encoding": {"x": {"field": "x", "type": "quantitative", "scale": {"domain": [0.7, 208], "nice": false, "zero": false}}, "y": {"field": "y", "type": "quantitative", "scale": {"domain": [-0.253, 1.445], "nice": false, "zero": false}}, "text": {"field": "text"}}},
      {"data": {"name": "aBotText"}, "transform": [{"filter": "datum.part === 'sub'"}], "mark": {"type": "text", "fontSize": 16},
       "encoding": {"x": {"field": "x", "type": "quantitative", "scale": {"domain": [0.7, 208], "nice": false, "zero": false}}, "y": {"field": "y", "type": "quantitative", "scale": {"domain": [-0.253, 1.445], "nice": false, "zero": false}}, "text": {"field": "text"}}}
    ]
  }
]
}
